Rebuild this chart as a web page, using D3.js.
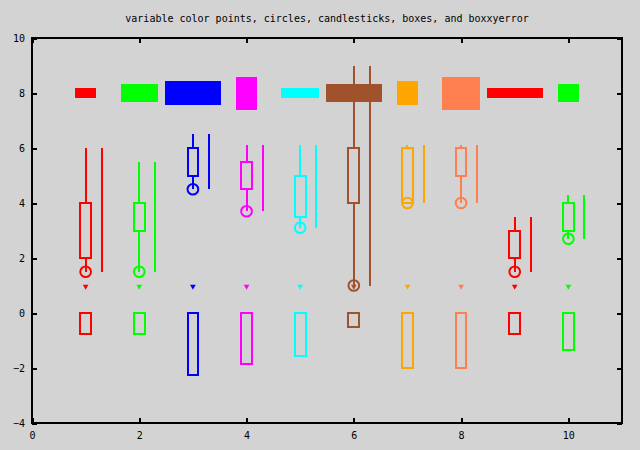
<!DOCTYPE html>
<html lang="en">
<head>
  <meta charset="UTF-8">
  <title>variable color points, circles, candlesticks, boxes, and boxxyerror</title>
  <script src="https://d3js.org/d3.v7.min.js"></script>
  <style>
    body { margin: 0; background: #d3d3d3; }
    svg { display: block; background: #d3d3d3; }
    text { font-family: "DejaVu Sans Mono", "Liberation Mono", monospace; font-size: 10px; fill: #000; }
  </style>
</head>
<body>
<svg id="chart" width="640" height="450"></svg>
<script>
  // data
  const xVals = [1, 2, 3, 4, 5, 6, 7, 8, 9, 10];
  const colorNames = ["#ff0000", "#00ff00", "#0000ff", "#ff00ff", "#00ffff",
                      "#a0522d", "#ffa500", "#ff7f50", "#ff0000", "#00ff00"];
  const lowVals = [1.5, 1.5, 4.5, 3.7, 3.1, 1.0, 4.0, 4.0, 1.5, 2.7];
  const openVals = [2, 3, 5, 4.5, 3.5, 4, 4, 5, 2, 3];
  const closeVals = [4, 4, 6, 5.5, 5, 6, 6, 6, 3, 4];
  const highVals = [6.0, 5.5, 6.5, 6.1, 6.1, 9.0, 6.1, 6.1, 3.5, 4.3];
  const pointVals = [1, 1, 1, 1, 1, 1, 1, 1, 1, 1];
  const boxVals = [-0.75, -0.75, -2.25, -1.85, -1.55, -0.5, -2, -2, -0.75, -1.35];
  const xyCenter = [8, 8, 8, 8, 8, 8, 8, 8, 8, 8];
  const xDelta = [0.19, 0.35, 0.52, 0.19, 0.35, 0.52, 0.19, 0.35, 0.52, 0.19];
  const yDelta = [0.18, 0.31, 0.45, 0.6, 0.18, 0.31, 0.45, 0.6, 0.18, 0.31];
  const xTicks = [0, 2, 4, 6, 8, 10];
  const yTicks = [-4, -2, 0, 2, 4, 6, 8, 10];
  const boxWidth = 0.2, circleRadius = 0.1, lineOffset = 0.3;

  const rows = xVals.map((x, i) => ({
    x, color: colorNames[i], low: lowVals[i], open: openVals[i], close: closeVals[i],
    high: highVals[i], pt: pointVals[i], box: boxVals[i], yc: xyCenter[i], dx: xDelta[i], dy: yDelta[i]
  }));

  const svg = d3.select("#chart");
  const plotL = 32, plotR = 622, plotT = 38, plotB = 423;
  const x = d3.scaleLinear().domain([0, 11]).range([plotL, plotR]);
  const y = d3.scaleLinear().domain([-4, 10]).range([plotB, plotT]);
  const pxPerX = x(1) - x(0);

  // title
  svg.append("text").attr("x", (plotL + plotR) / 2).attr("y", 22)
    .attr("text-anchor", "middle").text("variable color points, circles, candlesticks, boxes, and boxxyerror");

  // axes (ticks point inward, mirrored)
  const styleAxis = g => {
    g.select(".domain").remove();
    g.selectAll("line").attr("stroke", "#000").attr("stroke-width", 2).attr("shape-rendering", "crispEdges");
    g.selectAll("text").style("font-family", "DejaVu Sans Mono, monospace").style("font-size", "10px");
  };
  svg.append("g").attr("transform", `translate(0,${plotB})`)
    .call(d3.axisBottom(x).tickValues(xTicks).tickSize(-5).tickSizeOuter(0).tickPadding(9).tickFormat(d3.format("d")))
    .call(styleAxis);
  svg.append("g").attr("transform", `translate(0,${plotT})`)
    .call(d3.axisTop(x).tickValues(xTicks).tickSize(-5).tickSizeOuter(0).tickFormat(""))
    .call(styleAxis);
  svg.append("g").attr("transform", `translate(${plotL},0)`)
    .call(d3.axisLeft(y).tickValues(yTicks).tickSize(-5).tickSizeOuter(0).tickPadding(7).tickFormat(d3.format("d")))
    .call(styleAxis);
  svg.append("g").attr("transform", `translate(${plotR},0)`)
    .call(d3.axisRight(y).tickValues(yTicks).tickSize(-5).tickSizeOuter(0).tickFormat(""))
    .call(styleAxis);

  const plot = svg.append("g");

  // points
  plot.selectAll("path.pt").data(rows).enter().append("path")
    .attr("class", "pt")
    .attr("d", d3.symbol(d3.symbolTriangle, 14))
    .attr("transform", d => `translate(${x(d.x)},${y(d.pt) + 1}) rotate(180)`)
    .attr("fill", d => d.color);

  // circles
  plot.selectAll("circle").data(rows).enter().append("circle")
    .attr("cx", d => x(d.x)).attr("cy", d => y(d.low))
    .attr("r", circleRadius * pxPerX)
    .attr("fill", "none").attr("stroke", d => d.color).attr("stroke-width", 2);

  // candlesticks
  const candle = plot.selectAll("g.candle").data(rows).enter().append("g").attr("class", "candle")
    .attr("stroke", d => d.color).attr("stroke-width", 2).attr("shape-rendering", "crispEdges");
  candle.append("line")
    .attr("x1", d => x(d.x)).attr("x2", d => x(d.x))
    .attr("y1", d => y(d.low)).attr("y2", d => y(Math.min(d.open, d.close)));
  candle.append("line")
    .attr("x1", d => x(d.x)).attr("x2", d => x(d.x))
    .attr("y1", d => y(Math.max(d.open, d.close))).attr("y2", d => y(d.high));
  candle.append("rect")
    .attr("x", d => x(d.x - boxWidth / 2)).attr("width", boxWidth * pxPerX)
    .attr("y", d => y(Math.max(d.open, d.close)))
    .attr("height", d => y(Math.min(d.open, d.close)) - y(Math.max(d.open, d.close)))
    .attr("fill", "none");

  // low-high lines beside the candles
  plot.selectAll("line.range").data(rows).enter().append("line")
    .attr("class", "range")
    .attr("x1", d => x(d.x + lineOffset)).attr("x2", d => x(d.x + lineOffset))
    .attr("y1", d => y(d.low)).attr("y2", d => y(d.high))
    .attr("stroke", d => d.color).attr("stroke-width", 2).attr("shape-rendering", "crispEdges");

  // boxes
  plot.selectAll("rect.box").data(rows).enter().append("rect")
    .attr("class", "box")
    .attr("x", d => x(d.x - boxWidth / 2)).attr("width", boxWidth * pxPerX)
    .attr("y", d => y(Math.max(0, d.box))).attr("height", d => Math.abs(y(d.box) - y(0)))
    .attr("fill", "none").attr("stroke", d => d.color).attr("stroke-width", 2)
    .attr("shape-rendering", "crispEdges");

  // boxxyerror
  plot.selectAll("rect.xy").data(rows).enter().append("rect")
    .attr("class", "xy")
    .attr("x", d => x(d.x - d.dx)).attr("width", d => x(d.x + d.dx) - x(d.x - d.dx))
    .attr("y", d => y(d.yc + d.dy)).attr("height", d => y(d.yc - d.dy) - y(d.yc + d.dy))
    .attr("fill", d => d.color).attr("shape-rendering", "crispEdges");

  // frame
  svg.append("rect").attr("x", plotL).attr("y", plotT)
    .attr("width", plotR - plotL).attr("height", plotB - plotT)
    .attr("fill", "none").attr("stroke", "#000").attr("stroke-width", 2)
    .attr("shape-rendering", "crispEdges");
</script>
</body>
</html>
